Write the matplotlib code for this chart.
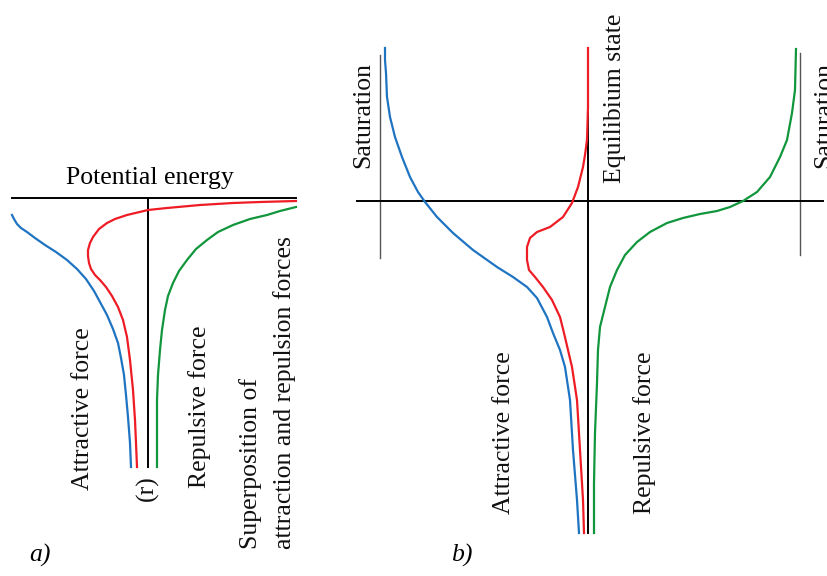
import matplotlib.pyplot as plt

# curves, in pixel coordinates (y grows downward)
# panel a)
a_attr_x = [12, 14, 17, 21, 27, 35, 45, 56, 67, 77, 86, 94, 100, 107, 113, 118, 121, 124, 126, 128, 130, 131]
a_attr_y = [215, 219, 224, 228, 232, 238, 245, 252, 260, 269, 279, 291, 302, 315, 329, 343, 358, 375, 395, 417, 443, 467]
a_sum_x = [296, 260, 233, 200, 167, 148, 127, 115, 107, 99, 93, 90, 88, 88, 89, 91, 95, 100, 106, 112, 118, 123, 127, 130, 133, 135, 136, 137]
a_sum_y = [201, 202, 203, 205, 208, 210, 215, 219, 223, 229, 237, 243, 250, 256, 263, 269, 275, 280, 287, 296, 307, 320, 337, 360, 390, 420, 443, 467]
a_rep_x = [296, 280, 267, 250, 233, 218, 207, 196, 187, 179, 173, 168, 165, 162, 160, 158, 157, 157]
a_rep_y = [207, 211, 215, 219, 225, 232, 240, 249, 260, 271, 283, 296, 310, 330, 350, 375, 400, 467]

# panel b)
b_attr_x = [385, 385, 386, 387, 390, 395, 402, 410, 418, 425, 437, 453, 473, 497, 513, 527, 537, 547, 553, 560, 565, 570, 573, 577, 579]
b_attr_y = [48, 60, 73, 97, 117, 137, 157, 177, 192, 202, 217, 233, 250, 267, 277, 287, 298, 317, 333, 350, 367, 400, 450, 500, 533]
b_sum_x = [588, 588, 588, 587, 585, 583, 578, 572, 563, 550, 537, 530, 527, 527, 529, 535, 543, 552, 560, 564, 568, 572, 577, 580, 583, 584]
b_sum_y = [48, 80, 107, 140, 155, 167, 187, 203, 217, 227, 232, 238, 247, 260, 270, 277, 287, 300, 317, 333, 350, 367, 400, 450, 500, 533]
b_rep_x = [796, 795, 792, 787, 780, 770, 757, 743, 730, 717, 700, 683, 667, 650, 637, 625, 617, 610, 605, 600, 598, 597, 595, 594, 594]
b_rep_y = [49, 90, 113, 140, 157, 177, 192, 201, 207, 211, 214, 218, 223, 232, 242, 255, 270, 287, 307, 327, 350, 383, 433, 483, 533]

BLUE = "#1f74c2"
RED = "#ee1c24"
GREEN = "#11963c"
FONT = "Liberation Serif"
FS = 18.5


def vtext(ax, x, y, s):
    # rotated label, y is where the text starts (its bottom)
    ax.text(x, y, s, rotation=90, rotation_mode="anchor", ha="left", va="center",
            fontsize=FS, family=FONT, color="#111111")


def main():
    fig = plt.figure(figsize=(8.27, 5.76), dpi=100)
    ax = fig.add_axes([0, 0, 1, 1])
    ax.set_xlim(0, 827)
    ax.set_ylim(576, 0)
    ax.axis("off")

    # panel a axes
    ax.plot([12, 296], [198, 198], color="black", lw=1.4)
    ax.plot([148, 148], [198, 467], color="black", lw=1.4)
    ax.plot(a_attr_x, a_attr_y, color=BLUE, lw=1.6)
    ax.plot(a_sum_x, a_sum_y, color=RED, lw=1.6)
    ax.plot(a_rep_x, a_rep_y, color=GREEN, lw=1.6)

    ax.text(150, 178, "Potential energy", ha="center", va="center", fontsize=FS, family=FONT)
    vtext(ax, 83, 490, "Attractive force")
    vtext(ax, 147, 501, "(r)")
    vtext(ax, 200, 488, "Repulsive force")
    vtext(ax, 251, 549, "Superposition of")
    vtext(ax, 285, 549, "attraction and repulsion forces")
    ax.text(40, 555, "a)", ha="center", va="center", fontsize=FS, family=FONT, style="italic")

    # panel b axes
    ax.plot([380, 380], [55, 258], color="#555555", lw=1.0)
    ax.plot([800, 800], [53, 255], color="#555555", lw=1.0)
    ax.plot([357, 823], [201, 201], color="black", lw=1.4)
    ax.plot([588, 588], [105, 533], color="black", lw=1.4)
    ax.plot(b_attr_x, b_attr_y, color=BLUE, lw=1.6)
    ax.plot(b_sum_x, b_sum_y, color=RED, lw=1.6)
    ax.plot(b_rep_x, b_rep_y, color=GREEN, lw=1.6)

    vtext(ax, 363, 168, "Saturation")
    vtext(ax, 824, 168, "Saturation")
    vtext(ax, 615, 183, "Equilibium state")
    vtext(ax, 504, 514, "Attractive force")
    vtext(ax, 645, 514, "Repulsive force")
    ax.text(462, 555, "b)", ha="center", va="center", fontsize=FS, family=FONT, style="italic")

    fig.savefig("out.png", dpi=100)


if __name__ == "__main__":
    main()
